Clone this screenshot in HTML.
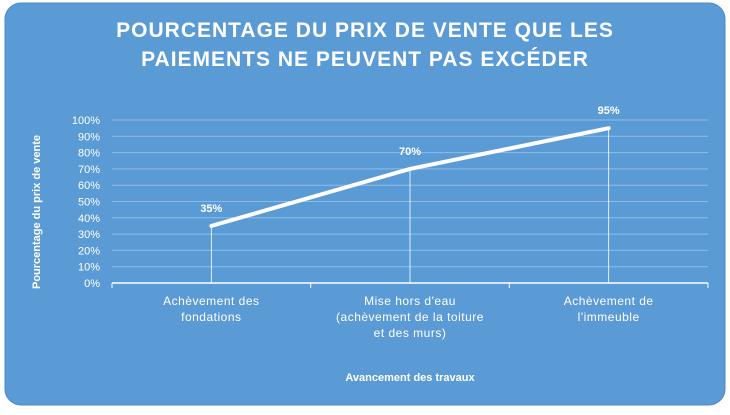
<!DOCTYPE html>
<html><head><meta charset="utf-8"><style>
body{margin:0;background:#fff;width:730px;height:410px;overflow:hidden;font-family:"Liberation Sans",sans-serif}
</style></head><body>
<svg width="730" height="410">
<rect x="5" y="3" width="720" height="402" rx="16" fill="#5b9bd5" stroke="#4a8ac7"/>
<text x="365" y="37" text-anchor="middle" fill="#fff" font-size="21" font-weight="bold" letter-spacing="1">POURCENTAGE DU PRIX DE VENTE QUE LES</text>
<text x="365" y="66" text-anchor="middle" fill="#fff" font-size="21" font-weight="bold" letter-spacing="1">PAIEMENTS NE PEUVENT PAS EXCÉDER</text>
<g id="grid"></g><g id="plot"></g>
<text transform="translate(40,212) rotate(-90)" text-anchor="middle" fill="#fff" font-size="11" font-weight="bold">Pourcentage du prix de vente</text>
<text x="410" y="381" text-anchor="middle" fill="#fff" font-size="11" font-weight="bold">Avancement des travaux</text>
</svg>
<script>
const categories=[["Achèvement des","fondations"],["Mise hors d'eau","(achèvement de la toiture","et des murs)"],["Achèvement de","l'immeuble"]];
const values=[35,70,95];
const yTicks=[0,10,20,30,40,50,60,70,80,90,100];
const NS="http://www.w3.org/2000/svg";
const x0=112,x1=708,yb=283,yt=120;
const y=v=>yb-(v/100)*(yb-yt);
const bw=(x1-x0)/categories.length;
const x=i=>x0+bw*(i+0.5);
function mk(t,a,p){const e=document.createElementNS(NS,t);for(const k in a)e.setAttribute(k,a[k]);p.appendChild(e);return e;}
const g=document.getElementById('grid'),p=document.getElementById('plot');
yTicks.forEach(v=>{
 if(v>0){const l=mk('line',{x1:x0,x2:x1,y1:y(v),y2:y(v),stroke:'#8dbde6','stroke-width':1},g);
 
 }
 const t=mk('text',{x:100,y:y(v)+4,'text-anchor':'end',fill:'#fff','font-size':11},g);t.textContent=v+'%';
 
 
});
const ax=mk('line',{x1:x0,x2:x1,y1:yb,y2:yb,stroke:'#fff','stroke-width':1.5},g);


for(let i=0;i<=categories.length;i++){const tk=mk('line',{x1:x0+bw*i,x2:x0+bw*i,y1:yb,y2:yb+5,stroke:'#fff'},g);
 
 }
categories.forEach((c,i)=>{
 const t=mk('text',{x:x(i),y:yb+22,'text-anchor':'middle',fill:'#fff','font-size':12,'letter-spacing':0.5},g);
 
 
 c.forEach((s,j)=>{const ts=mk('tspan',{x:x(i),dy:j?16:0},t);ts.textContent=s;});
});
values.forEach((v,i)=>{
 const d=mk('line',{x1:x(i),x2:x(i),y1:y(v),y2:yb,stroke:'#fff','stroke-width':0.8},p);
 
 
 const t=mk('text',{x:x(i),y:y(v)-14,'text-anchor':'middle',fill:'#fff','font-size':11,'font-weight':'bold'},p);
 t.textContent=v+'%';
 
 
});
const line=mk('polyline',{points:values.map((v,i)=>x(i)+','+y(v)).join(' '),fill:'none',stroke:'#fff','stroke-width':4,'stroke-linecap':'round','stroke-linejoin':'round'},p);


</script>
</body></html>
